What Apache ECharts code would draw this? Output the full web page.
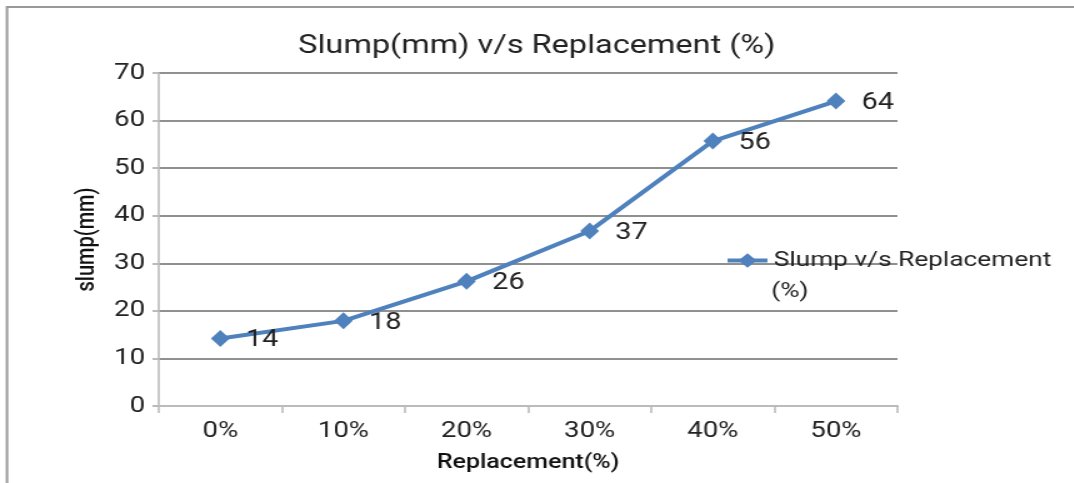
<!DOCTYPE html>
<html>
<head>
<meta charset="utf-8">
<script src="https://cdn.jsdelivr.net/npm/echarts@6/dist/echarts.min.js"></script>
<style>
html,body{margin:0;padding:0;background:#fff;overflow:hidden;}
#wrap{width:1074px;height:483px;overflow:hidden;}
#chart{width:859px;height:483px;transform:scaleX(1.25);transform-origin:0 0;}
</style>
</head>
<body>
<div id="wrap"><div id="chart"></div></div>
<script>
const categories = ['0%', '10%', '20%', '30%', '40%', '50%'];
const slumpValues = [14.2, 17.9, 26.2, 36.8, 55.7, 64.1];
const seriesName = 'Slump v/s Replacement (%)';
const titleText = 'Slump(mm) v/s Replacement (%)';
const xAxisName = 'Replacement(%)';
const yAxisName = 'slump(mm)';
const legendLine1 = 'Slump v/s Replacement';
const legendLine2 = '(%)';

const chart = echarts.init(document.getElementById('chart'));
const font = 'Roboto, "Noto Sans", sans-serif';
chart.setOption({
  animation: false,
  textStyle: { fontFamily: font },
  title: {
    text: titleText,
    left: 'center',
    top: 28,
    textStyle: { fontFamily: font, fontSize: 26, fontWeight: 'normal', color: '#222' }
  },
  graphic: [{
    type: 'rect',
    silent: true,
    shape: { x: 5.6, y: 7, width: 1200, height: 600 },
    style: { fill: 'none', stroke: '#999', lineWidth: 2 },
    z: -1
  }, {
    type: 'text',
    silent: true,
    left: 617,
    top: 281,
    style: { text: legendLine2, fontFamily: font, fontSize: 21, fill: '#222' }
  }],
  legend: {
    left: 575,
    top: 245,
    itemWidth: 32,
    itemHeight: 18,
    itemGap: 0,
    formatter: function () { return legendLine1; },
    lineStyle: { width: 4 },
    textStyle: { fontFamily: font, fontSize: 21, color: '#222' },
    data: [seriesName]
  },
  grid: { left: 127, right: 141, top: 73, bottom: 77 },
  xAxis: {
    type: 'category',
    data: categories,
    boundaryGap: true,
    name: xAxisName,
    nameLocation: 'middle',
    nameGap: 47,
    nameTextStyle: { fontFamily: font, fontSize: 20, fontWeight: 500, color: '#111' },
    axisLine: { lineStyle: { color: '#bbb', width: 2 } },
    axisTick: { show: true, alignWithLabel: false, length: 7, lineStyle: { color: '#bbb', width: 1.6 } },
    axisLabel: { fontFamily: font, fontSize: 22, color: '#222', margin: 14 }
  },
  yAxis: {
    type: 'value',
    min: 0,
    max: 70,
    interval: 10,
    name: yAxisName,
    nameLocation: 'middle',
    nameGap: 44,
    nameTextStyle: { fontFamily: font, fontSize: 20, fontWeight: 500, color: '#111' },
    axisLine: { show: true, lineStyle: { color: '#bbb', width: 1.6 } },
    axisTick: { show: true, length: 5, lineStyle: { color: '#bbb', width: 2 } },
    axisLabel: { fontFamily: font, fontSize: 22, color: '#222', margin: 11 },
    splitLine: { lineStyle: { color: '#909090', width: 2 } }
  },
  series: [{
    name: seriesName,
    type: 'line',
    data: slumpValues,
    symbol: 'diamond',
    symbolSize: [15, 17],
    itemStyle: { color: '#4F81BD' },
    lineStyle: { color: '#4F81BD', width: 4 },
    label: {
      show: true,
      position: 'right',
      distance: 13,
      offset: [0, 2],
      fontFamily: font,
      fontSize: 23,
      color: '#222',
      formatter: function (p) { return String(Math.round(p.value)); }
    }
  }]
});
</script>
</body>
</html>
